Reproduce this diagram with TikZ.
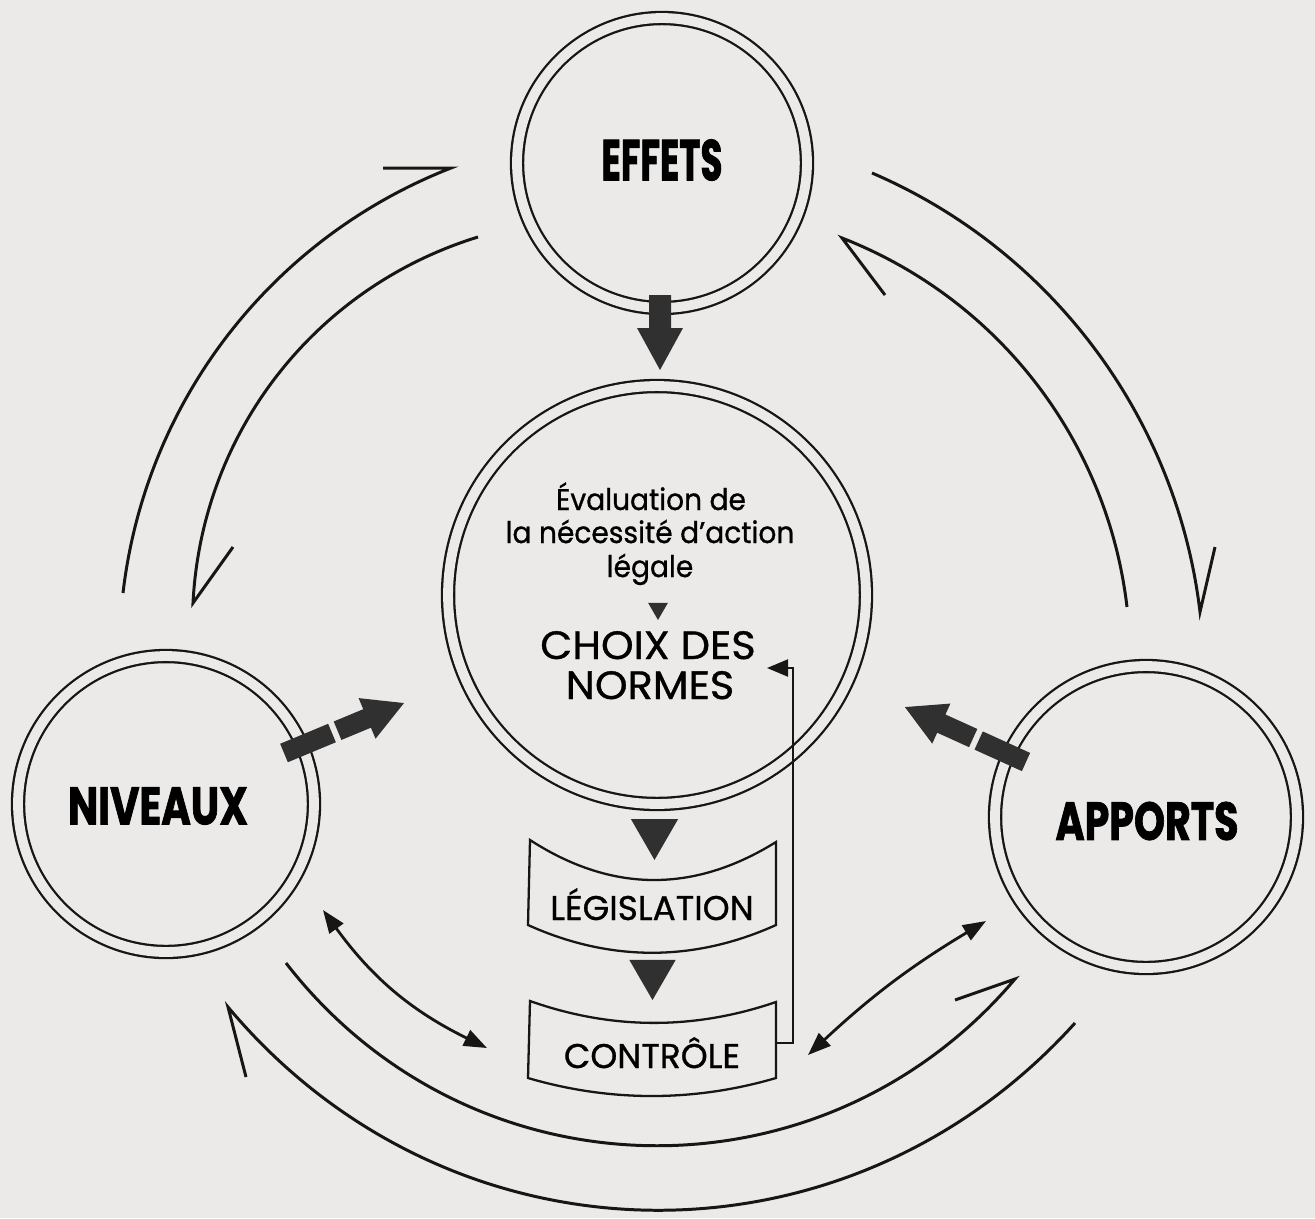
\documentclass[tikz,border=0pt]{standalone}
\usepackage{fontspec}
\usepackage{graphicx}
\setmainfont{Poppins}
\newfontfamily\bookfont[FakeBold=0.9, FakeStretch=0.94]{Poppins}
\newfontfamily\capsfont[FakeBold=0.9, FakeStretch=1.05]{Poppins}
\newfontfamily\boxfont[FakeBold=0.9]{Poppins}
\newfontfamily\heavyfont[BoldFeatures={FakeBold=1.6}]{Poppins}
\usetikzlibrary{arrows.meta,shapes.geometric}
\definecolor{paper}{RGB}{235,234,232}
\definecolor{ink}{RGB}{22,22,22}
\definecolor{tarrowc}{RGB}{48,48,48}
\begin{document}
\begin{tikzpicture}[x=0.02cm,y=-0.02cm,
  dcirc/.style={circle, draw=ink, line width=1.3pt, double=paper, double distance=5.6pt, inner sep=0pt},
  flow/.style={draw=ink, line width=1.7pt, line join=miter, miter limit=20},
  dbl/.style={draw=ink, line width=1.6pt, {Triangle[length=0.46cm,width=0.34cm]}-{Triangle[length=0.46cm,width=0.34cm]}},
  fb/.style={draw=ink, line width=1.2pt, -{Triangle[length=0.42cm,width=0.34cm]}},
  boxline/.style={draw=ink, line width=1.3pt, line join=miter},
  tarrow/.style={fill=tarrowc},
  ptri/.style={regular polygon, regular polygon sides=3, shape border rotate=180, fill=tarrowc, inner sep=0pt},
  big/.style={inner sep=0pt, font=\heavyfont\bfseries},
  inner/.style={inner sep=0pt, anchor=base, font=\bookfont\fontsize{17}{20}\selectfont},
  choix/.style={inner sep=0pt, anchor=base, font=\capsfont\fontsize{22.5}{26}\selectfont},
  boxtext/.style={inner sep=0pt, anchor=base, font=\boxfont\fontsize{19.5}{23}\selectfont}]
\fill[paper] (0,0) rectangle (1315,1218);
\useasboundingbox (0,0) rectangle (1315,1218);

% circles
\node[dcirc, minimum size=5.8cm] (eff) at (662,163) {};
\node[dcirc, minimum size=8.36cm] (cen) at (657,595) {};
\node[dcirc, minimum size=5.92cm] (niv) at (166,804) {};
\node[dcirc, minimum size=6.04cm] (app) at (1146,817) {};

% big labels
\node[big] (effT) at (662,160) {\resizebox{2.42cm}{0.82cm}{EFFETS}};
\node[big] (nivT) at (158,806) {\resizebox{3.6cm}{0.74cm}{NIVEAUX}};
\node[big] (appT) at (1147,821) {\resizebox{3.66cm}{0.76cm}{APPORTS}};

% central texts
\node[inner] (ev1) at (651,510) {Évaluation de};
\node[inner] (ev2) at (650,543) {la nécessité d’action};
\node[inner] (ev3) at (650,577) {légale};
\node[ptri, minimum size=0.46cm] (t0) at (658,608.5) {};
\node[choix] (ch1) at (648,659) {CHOIX DES};
\node[choix] (ch2) at (650,699) {NORMES};

% pointer triangles
\node[ptri, minimum size=1.09cm] (t1) at (654.5,832.7) {};
\node[ptri, minimum size=1.07cm] (t2) at (652.5,973.3) {};

% boxes
\draw[boxline] (530,840) .. controls (612,893) and (694,893) .. (776,842) -- (776,925)
  .. controls (694,962) and (610,962) .. (528,925) -- cycle;
\node[boxtext] (leg) at (652,920) {LÉGISLATION};
\draw[boxline] (530,1001) .. controls (612,1030) and (694,1030) .. (776,1002) -- (776,1078)
  .. controls (694,1102) and (610,1102) .. (528,1078) -- cycle;
\node[boxtext] (con) at (652,1068) {CONTRÔLE};

% feedback
\coordinate (fbS) at (776,1043);
\coordinate (fbE) at (767,668);
\draw[fb] (fbS) -- (793,1043) |- (fbE);

% thick arrows
\fill[tarrow] (649,295) -- (671,295) -- (671,328) -- (683,328) -- (660,370) -- (637,328) -- (649,328) -- cycle;
\begin{scope}[shift={(284,753)}, rotate=22.6]
  \fill[tarrow] (0,-10) rectangle (52,10);
  \fill[tarrow] (58,-10) -- (90,-10) -- (90,-22) -- (130,0) -- (90,22) -- (90,10) -- (58,10) -- cycle;
\end{scope}
\begin{scope}[shift={(1026,762)}, rotate=155.6]
  \fill[tarrow] (0,-10) rectangle (52,10);
  \fill[tarrow] (58,-10) -- (93,-10) -- (93,-22) -- (133,0) -- (93,22) -- (93,10) -- (58,10) -- cycle;
\end{scope}

% cycle arcs
\coordinate (a1) at (123,593); \coordinate (b1) at (451,168); \coordinate (c1) at (383,168);
\coordinate (a2) at (478,237); \coordinate (b2) at (193,603); \coordinate (c2) at (233,547);
\coordinate (a3) at (872,173); \coordinate (b3) at (1200,612); \coordinate (c3) at (1215,547);
\coordinate (a4) at (1127,607); \coordinate (b4) at (842,238); \coordinate (c4) at (885,295);
\coordinate (a5) at (286,963); \coordinate (b5) at (1015,979); \coordinate (c5) at (955,1000);
\coordinate (a6) at (1075,1023); \coordinate (b6) at (228,1007); \coordinate (c6) at (246,1077);
\draw[flow] (a1) to[bend left=31, looseness=0.92] (b1) -- (c1);
\draw[flow] (a2) to[bend right=35, looseness=0.94] (b2) -- (c2);
\draw[flow] (a3) to[bend left=30, looseness=0.91] (b3) -- (c3);
\draw[flow] (a4) to[bend right=31, looseness=0.92] (b4) -- (c4);
\draw[flow] (a5) to[bend right=51, looseness=1.05] (b5) -- (c5);
\draw[flow] (a6) to[bend left=49, looseness=1.04] (b6) -- (c6);

% double arrows
\coordinate (d1) at (323,910); \coordinate (e1) at (487,1048);
\coordinate (d2) at (986,921); \coordinate (e2) at (808,1055);
\draw[dbl] (d1) to[bend right=14] (e1);
\draw[dbl] (d2) to[bend right=6] (e2);
\end{tikzpicture}
\end{document}
